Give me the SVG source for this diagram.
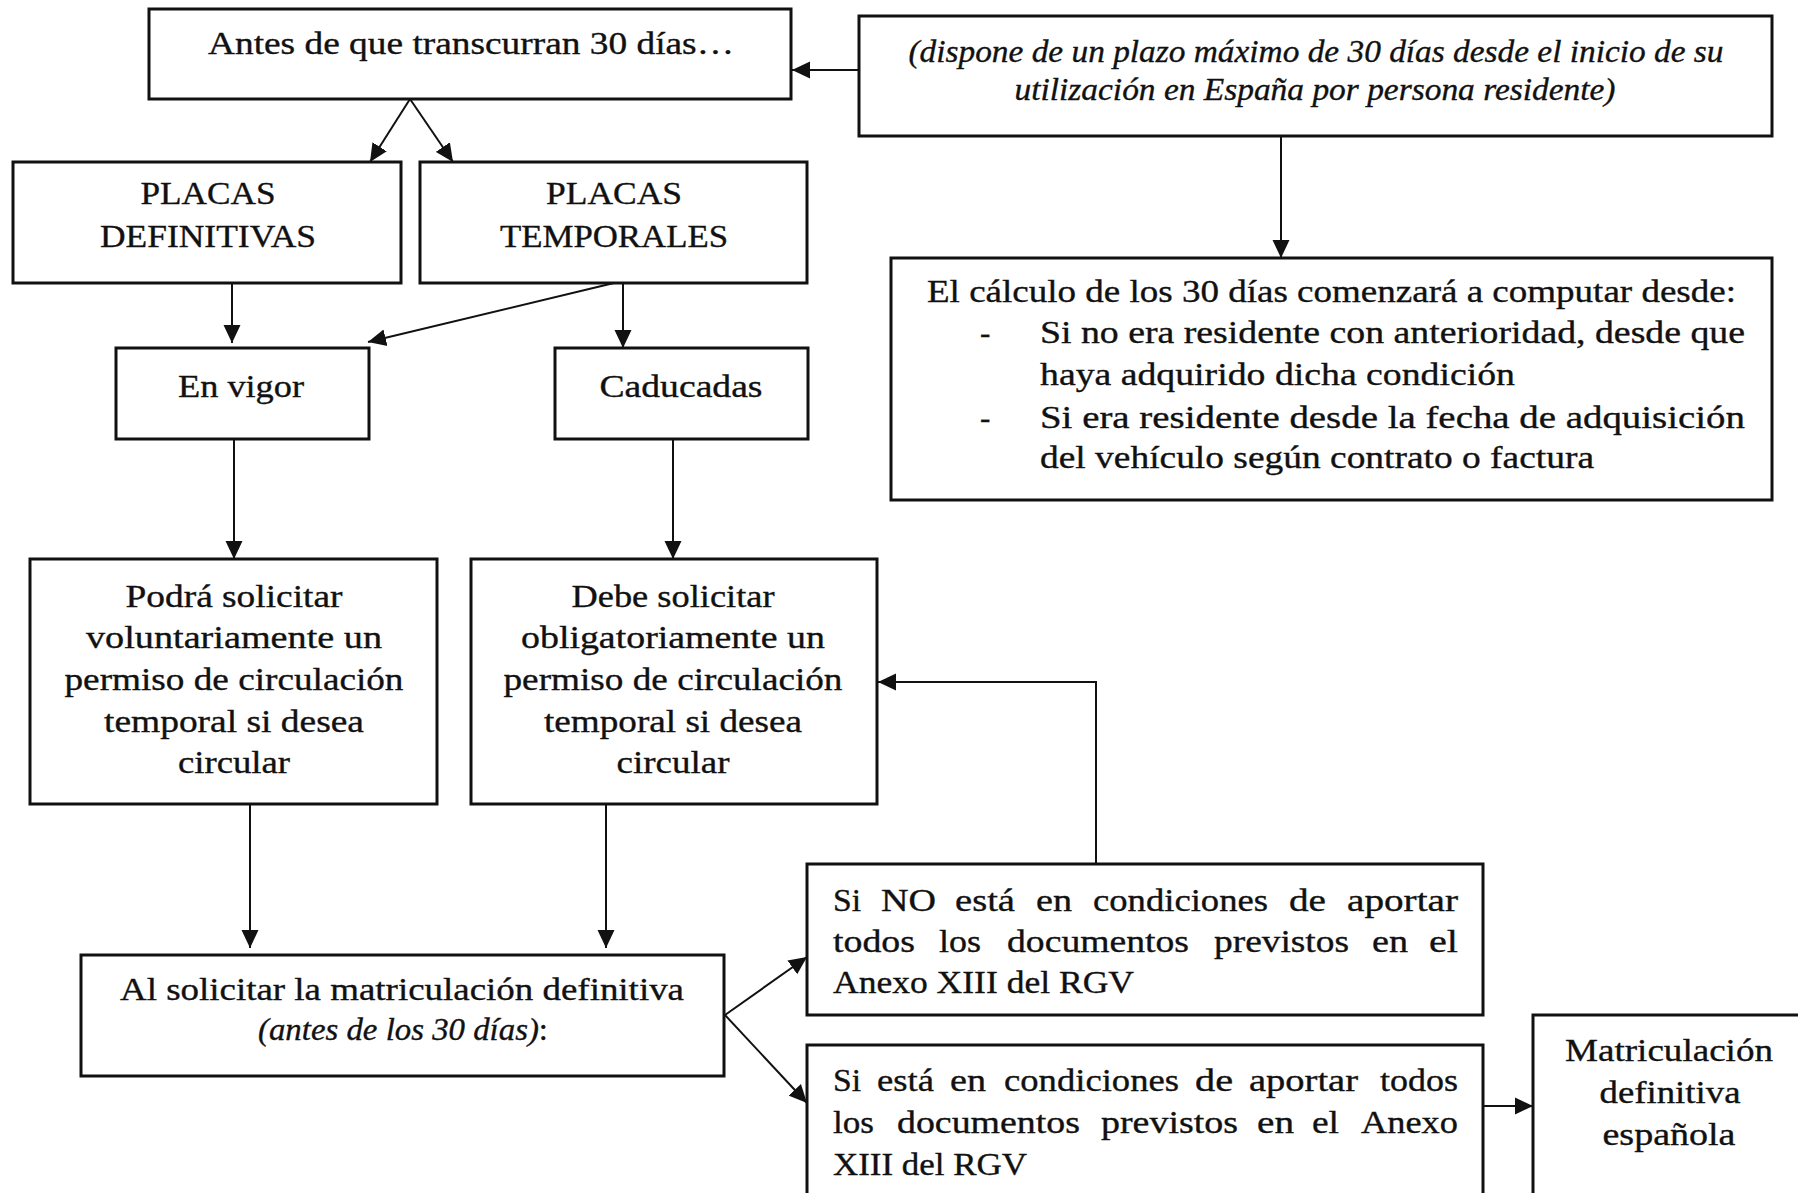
<svg xmlns="http://www.w3.org/2000/svg" width="1798" height="1193" viewBox="0 0 1798 1193">
<style>
.box{fill:#fff;stroke:#111;stroke-width:3}
.t{font-family:"Liberation Serif","Times New Roman",serif;font-size:31px;fill:#111;stroke:#111;stroke-width:0.35}
.c{text-anchor:middle}
.i{font-style:italic}
.con{fill:none;stroke:#111;stroke-width:2}
</style>
<defs>
<marker id="arr" viewBox="0 0 18 18" refX="18" refY="9" markerWidth="18" markerHeight="18" markerUnits="userSpaceOnUse" orient="auto">
<path d="M0,0.5 L18,9 L0,17.5 z" fill="#111"/>
</marker>
</defs>
<rect width="1798" height="1193" fill="#fff"/>

<g id="connectors">
<line class="con" x1="859" y1="70" x2="792" y2="70" marker-end="url(#arr)"/>
<line class="con" x1="410" y1="99" x2="370" y2="162" marker-end="url(#arr)"/>
<line class="con" x1="410" y1="99" x2="453" y2="162" marker-end="url(#arr)"/>
<line class="con" x1="1281" y1="136" x2="1281" y2="258" marker-end="url(#arr)"/>
<line class="con" x1="232" y1="283" x2="232" y2="343" marker-end="url(#arr)"/>
<line class="con" x1="614" y1="283" x2="368" y2="342" marker-end="url(#arr)"/>
<line class="con" x1="623" y1="283" x2="623" y2="348" marker-end="url(#arr)"/>
<line class="con" x1="234" y1="439" x2="234" y2="559" marker-end="url(#arr)"/>
<line class="con" x1="673" y1="439" x2="673" y2="559" marker-end="url(#arr)"/>
<line class="con" x1="250" y1="804" x2="250" y2="948" marker-end="url(#arr)"/>
<line class="con" x1="606" y1="804" x2="606" y2="948" marker-end="url(#arr)"/>
<line class="con" x1="725" y1="1015" x2="807" y2="957" marker-end="url(#arr)"/>
<line class="con" x1="725" y1="1015" x2="807" y2="1103" marker-end="url(#arr)"/>
<polyline class="con" points="1096,864 1096,682 878,682" marker-end="url(#arr)"/>
<line class="con" x1="1483" y1="1106" x2="1533" y2="1106" marker-end="url(#arr)"/>
</g>

<g id="n-antes">
<rect class="box" x="149" y="9" width="642" height="90"/>
<text class="t c" x="471" y="54" textLength="526" lengthAdjust="spacingAndGlyphs">Antes de que transcurran 30 días…</text>
</g>

<g id="n-dispone">
<rect class="box" x="859" y="16" width="913" height="120"/>
<text class="t c i" x="1316" y="62" textLength="815" lengthAdjust="spacingAndGlyphs">(dispone de un plazo máximo de 30 días desde el inicio de su</text>
<text class="t c i" x="1315" y="100" textLength="601" lengthAdjust="spacingAndGlyphs">utilización en España por persona residente)</text>
</g>

<g id="n-definitivas">
<rect class="box" x="13" y="162" width="388" height="121"/>
<text class="t c" x="208" y="204" textLength="135" lengthAdjust="spacingAndGlyphs">PLACAS</text>
<text class="t c" x="208" y="247" textLength="216" lengthAdjust="spacingAndGlyphs">DEFINITIVAS</text>
</g>

<g id="n-temporales">
<rect class="box" x="420" y="162" width="387" height="121"/>
<text class="t c" x="614" y="204" textLength="136" lengthAdjust="spacingAndGlyphs">PLACAS</text>
<text class="t c" x="614" y="247" textLength="228" lengthAdjust="spacingAndGlyphs">TEMPORALES</text>
</g>

<g id="n-calculo">
<rect class="box" x="891" y="258" width="881" height="242"/>
<text class="t" x="927" y="302" textLength="809" lengthAdjust="spacingAndGlyphs">El cálculo de los 30 días comenzará a computar desde:</text>
<text class="t" x="980" y="343">-</text>
<text class="t" x="1040" y="343" textLength="705" lengthAdjust="spacingAndGlyphs">Si no era residente con anterioridad, desde que</text>
<text class="t" x="1040" y="385" textLength="475" lengthAdjust="spacingAndGlyphs">haya adquirido dicha condición</text>
<text class="t" x="980" y="428">-</text>
<text class="t" x="1040" y="428" textLength="705" lengthAdjust="spacingAndGlyphs">Si era residente desde la fecha de adquisición</text>
<text class="t" x="1040" y="468" textLength="554" lengthAdjust="spacingAndGlyphs">del vehículo según contrato o factura</text>
</g>

<g id="n-envigor">
<rect class="box" x="116" y="348" width="253" height="91"/>
<text class="t c" x="241" y="397" textLength="126" lengthAdjust="spacingAndGlyphs">En vigor</text>
</g>

<g id="n-caducadas">
<rect class="box" x="555" y="348" width="253" height="91"/>
<text class="t c" x="681" y="397" textLength="163" lengthAdjust="spacingAndGlyphs">Caducadas</text>
</g>

<g id="n-podra">
<rect class="box" x="30" y="559" width="407" height="245"/>
<text class="t c" x="234" y="607" textLength="217" lengthAdjust="spacingAndGlyphs">Podrá solicitar</text>
<text class="t c" x="234" y="648" textLength="296" lengthAdjust="spacingAndGlyphs">voluntariamente un</text>
<text class="t c" x="234" y="690" textLength="339" lengthAdjust="spacingAndGlyphs">permiso de circulación</text>
<text class="t c" x="234" y="732" textLength="260" lengthAdjust="spacingAndGlyphs">temporal si desea</text>
<text class="t c" x="234" y="773" textLength="112" lengthAdjust="spacingAndGlyphs">circular</text>
</g>

<g id="n-debe">
<rect class="box" x="471" y="559" width="406" height="245"/>
<text class="t c" x="673" y="607" textLength="203" lengthAdjust="spacingAndGlyphs">Debe solicitar</text>
<text class="t c" x="673" y="648" textLength="304" lengthAdjust="spacingAndGlyphs">obligatoriamente un</text>
<text class="t c" x="673" y="690" textLength="339" lengthAdjust="spacingAndGlyphs">permiso de circulación</text>
<text class="t c" x="673" y="732" textLength="258" lengthAdjust="spacingAndGlyphs">temporal si desea</text>
<text class="t c" x="673" y="773" textLength="113" lengthAdjust="spacingAndGlyphs">circular</text>
</g>

<g id="n-alsolicitar">
<rect class="box" x="81" y="955" width="643" height="121"/>
<text class="t c" x="402" y="1000" textLength="564" lengthAdjust="spacingAndGlyphs">Al solicitar la matriculación definitiva</text>
<text class="t c" x="403" y="1040" textLength="290" lengthAdjust="spacingAndGlyphs"><tspan class="i">(antes de los 30 días)</tspan>:</text>
</g>

<g id="n-sino">
<rect class="box" x="807" y="864" width="676" height="151"/>
<text class="t" y="911" lengthAdjust="spacingAndGlyphs"><tspan x="833" textLength="28" lengthAdjust="spacingAndGlyphs">Si</tspan> <tspan x="881" textLength="55" lengthAdjust="spacingAndGlyphs">NO</tspan> <tspan x="955" textLength="60" lengthAdjust="spacingAndGlyphs">está</tspan> <tspan x="1036" textLength="36" lengthAdjust="spacingAndGlyphs">en</tspan> <tspan x="1093" textLength="175" lengthAdjust="spacingAndGlyphs">condiciones</tspan> <tspan x="1289" textLength="37" lengthAdjust="spacingAndGlyphs">de</tspan> <tspan x="1347" textLength="111" lengthAdjust="spacingAndGlyphs">aportar</tspan></text>
<text class="t" y="952"><tspan x="833" textLength="82" lengthAdjust="spacingAndGlyphs">todos</tspan> <tspan x="939" textLength="42" lengthAdjust="spacingAndGlyphs">los</tspan> <tspan x="1007" textLength="182" lengthAdjust="spacingAndGlyphs">documentos</tspan> <tspan x="1214" textLength="135" lengthAdjust="spacingAndGlyphs">previstos</tspan> <tspan x="1372" textLength="36" lengthAdjust="spacingAndGlyphs">en</tspan> <tspan x="1429" textLength="29" lengthAdjust="spacingAndGlyphs">el</tspan></text>
<text class="t" x="833" y="993" textLength="301" lengthAdjust="spacingAndGlyphs">Anexo XIII del RGV</text>
</g>

<g id="n-siesta">
<rect class="box" x="807" y="1045" width="676" height="160"/>
<text class="t" y="1091"><tspan x="833" textLength="28" lengthAdjust="spacingAndGlyphs">Si</tspan> <tspan x="877" textLength="57" lengthAdjust="spacingAndGlyphs">está</tspan> <tspan x="950" textLength="36" lengthAdjust="spacingAndGlyphs">en</tspan> <tspan x="1004" textLength="175" lengthAdjust="spacingAndGlyphs">condiciones</tspan> <tspan x="1195" textLength="38" lengthAdjust="spacingAndGlyphs">de</tspan> <tspan x="1249" textLength="109" lengthAdjust="spacingAndGlyphs">aportar</tspan> <tspan x="1380" textLength="78" lengthAdjust="spacingAndGlyphs">todos</tspan></text>
<text class="t" y="1133"><tspan x="833" textLength="41" lengthAdjust="spacingAndGlyphs">los</tspan> <tspan x="897" textLength="183" lengthAdjust="spacingAndGlyphs">documentos</tspan> <tspan x="1101" textLength="137" lengthAdjust="spacingAndGlyphs">previstos</tspan> <tspan x="1257" textLength="37" lengthAdjust="spacingAndGlyphs">en</tspan> <tspan x="1312" textLength="27" lengthAdjust="spacingAndGlyphs">el</tspan> <tspan x="1361" textLength="97" lengthAdjust="spacingAndGlyphs">Anexo</tspan></text>
<text class="t" x="833" y="1175" textLength="194" lengthAdjust="spacingAndGlyphs">XIII del RGV</text>
</g>

<g id="n-matriculacion">
<rect class="box" x="1533" y="1015" width="280" height="190"/>
<text class="t c" x="1669" y="1061" textLength="208" lengthAdjust="spacingAndGlyphs">Matriculación</text>
<text class="t c" x="1670" y="1103" textLength="141" lengthAdjust="spacingAndGlyphs">definitiva</text>
<text class="t c" x="1669" y="1145" textLength="133" lengthAdjust="spacingAndGlyphs">española</text>
</g>
</svg>
